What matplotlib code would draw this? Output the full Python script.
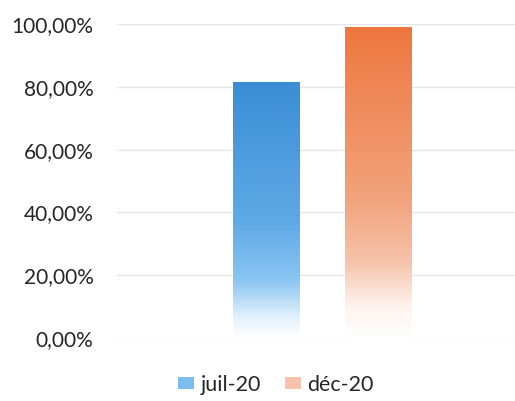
import matplotlib.pyplot as plt
import numpy as np
from matplotlib.colors import LinearSegmentedColormap
from matplotlib.patches import Patch
from matplotlib.ticker import FuncFormatter

series = ["juil-20", "déc-20"]
values = [81.6, 99.0]
yticks = [0, 20, 40, 60, 80, 100]

# gradient stops (fraction of bar height, colour), bottom -> top
stops = {
    "juil-20": [(0.0, "#ffffff"), (0.08, "#e3f1fc"), (0.22, "#8cc6f2"),
                (0.45, "#5eaae6"), (1.0, "#3a8dd4")],
    "déc-20": [(0.0, "#ffffff"), (0.10, "#fdf3ee"), (0.25, "#f6c2a8"),
               (0.45, "#f2a27c"), (1.0, "#ee773f")],
}
legend_colors = ["#7cbcef", "#f7c3aa"]

plt.rcParams["font.family"] = ["Lato", "DejaVu Sans"]

fig = plt.figure(figsize=(5.15, 4.01), dpi=100)
ax = fig.add_axes([117 / 515, 1 - 338 / 401, (515 - 117) / 515, (338 - 24) / 401])

x = np.arange(len(series))
bars = ax.bar(x, values, width=0.59, color="none", edgecolor="none", zorder=2)

grad = np.linspace(0, 1, 256).reshape(-1, 1)
for b, name in zip(bars, series):
    cmap = LinearSegmentedColormap.from_list(name, stops[name])
    x0, y0 = b.get_x(), b.get_y()
    w, h = b.get_width(), b.get_height()
    im = ax.imshow(grad, cmap=cmap, origin="lower", aspect="auto",
                   extent=[x0, x0 + w, y0, y0 + h], zorder=2)
    im.set_clip_path(b)

ax.set_xlim(-1.33, 2.22)
ax.set_ylim(0, 100)
ax.set_yticks(yticks)
ax.yaxis.set_major_formatter(FuncFormatter(lambda v, p: f"{v:.2f}%".replace(".", ",")))
ax.set_xticks([])
ax.grid(axis="y", color="#e6e6e6", linewidth=1, zorder=0)
ax.set_axisbelow(True)
for s in ax.spines.values():
    s.set_visible(False)
ax.tick_params(axis="y", length=0, pad=17, labelsize=15, labelcolor="#262626")

handles = [Patch(facecolor=c, edgecolor="none") for c in legend_colors]
fig.legend(handles, series, loc="center", bbox_to_anchor=(276 / 515, 1 - 385 / 401),
           ncol=2, frameon=False, fontsize=15.5, handlelength=0.75, handleheight=0.5,
           handletextpad=0.3, columnspacing=1.1, labelcolor="#262626")

fig.savefig("out.png", dpi=100)
